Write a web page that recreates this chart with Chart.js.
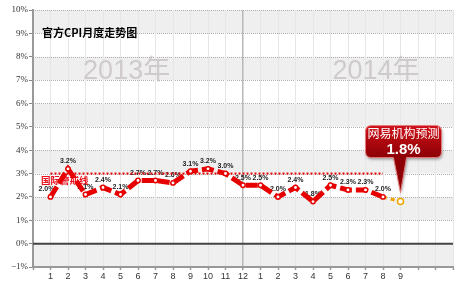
<!DOCTYPE html>
<html><head><meta charset="utf-8">
<script src="https://cdn.jsdelivr.net/npm/chart.js@4"></script>
<style>html,body{margin:0;padding:0;background:#fff}#wrap{width:460px;height:284px;position:relative}canvas{display:block}</style>
</head><body><div id="wrap"><canvas id="c" width="460" height="284" style="width:460px;height:284px"></canvas></div>
<script>
const monthLabels = ['1','2','3','4','5','6','7','8','9','10','11','12','1','2','3','4','5','6','7','8','9','',''];
const cpi = [2.0,3.2,2.1,2.4,2.1,2.7,2.7,2.6,3.1,3.2,3.0,2.5,2.5,2.0,2.4,1.8,2.5,2.3,2.3,2.0];
const forecast = 1.8;
const warningLevel = 3;
const warningLabel = '国际警戒线';
const yearLabels = ['2013年','2014年'];
const yearLabelCenters = [5.35, 19.6];
const chartTitle = '官方CPI月度走势图';
const calloutLines = ['网易机构预测','1.8%'];

const mainPts = cpi.map((v,i)=>({x:i+1,y:v}));
const fcPts = [{x:cpi.length,y:cpi[cpi.length-1]},{x:cpi.length+1,y:forecast}];
const warnPts = [{x:1,y:warningLevel},{x:cpi.length,y:warningLevel}];

const bgPlugin = {
  id:'bg',
  beforeDraw(chart){
    const {ctx, chartArea:a, scales:{y}} = chart;
    ctx.save();
    for(let v=-1; v<10; v++){
      if(((v+1)%2)===0){
        const t=y.getPixelForValue(v+1), b=y.getPixelForValue(v);
        ctx.fillStyle='#efefef';
        ctx.fillRect(a.left,t,a.right-a.left,b-t);
      }
    }
    ctx.strokeStyle='#b0b0b0'; ctx.lineWidth=1; ctx.setLineDash([1,1]);
    for(let v=-1; v<=10; v++){
      if(v===0) continue;
      const py=Math.round(y.getPixelForValue(v))+0.5;
      ctx.beginPath(); ctx.moveTo(a.left,py); ctx.lineTo(a.right,py); ctx.stroke();
    }
    ctx.restore();
  },
  beforeDatasetsDraw(chart){
    const {ctx, chartArea:a, scales:{x,y}} = chart;
    ctx.save();
    ctx.strokeStyle='#444'; ctx.lineWidth=2;
    const zy=y.getPixelForValue(0);
    ctx.beginPath(); ctx.moveTo(a.left,zy); ctx.lineTo(a.right,zy); ctx.stroke();
    ctx.fillStyle='#d0cbcb'; ctx.font='27px "Liberation Sans","Noto Sans CJK SC"';
    ctx.textAlign='center'; ctx.textBaseline='middle';
    yearLabels.forEach((t,i)=>ctx.fillText(t, x.getPixelForValue(yearLabelCenters[i]), 72));
    ctx.fillStyle='#000'; ctx.font='bold 11px "Noto Sans CJK SC"'; ctx.textAlign='left';
    ctx.fillText(chartTitle, 42, 33);
    ctx.fillStyle='#e8101c'; ctx.font='bold 9.5px "Noto Sans CJK SC"';
    ctx.fillText(warningLabel, 41, y.getPixelForValue(warningLevel)+7);
    const meta=chart.getDatasetMeta(0);
    ctx.fillStyle='#222'; ctx.font='bold 7px "Liberation Sans"'; ctx.textAlign='center'; ctx.textBaseline='bottom';
    meta.data.forEach((p,i)=>{
      const dx = i===0 ? -4 : 0;
      ctx.fillText(cpi[i].toFixed(1)+'%', p.x+dx, p.y-4);
    });
    ctx.restore();
  },
  afterDraw(chart){
    const {ctx} = chart;
    const p = chart.getDatasetMeta(1).data[1];
    const tipX=p.x, tipY=p.y-9;
    const w=76, h=32, l=tipX-35, t=p.y-76, r=l+w, b=t+h, rad=6;
    ctx.save();
    ctx.shadowColor='rgba(0,0,0,0.35)'; ctx.shadowBlur=3; ctx.shadowOffsetX=1; ctx.shadowOffsetY=2;
    const g=ctx.createLinearGradient(0,t,0,b);
    g.addColorStop(0,'#cf1018'); g.addColorStop(1,'#8c0006');
    ctx.fillStyle=g;
    ctx.beginPath();
    ctx.moveTo(l+rad,t); ctx.lineTo(r-rad,t); ctx.quadraticCurveTo(r,t,r,t+rad);
    ctx.lineTo(r,b-rad); ctx.quadraticCurveTo(r,b,r-rad,b);
    ctx.lineTo(tipX+6,b); ctx.lineTo(tipX,tipY); ctx.lineTo(tipX-7,b);
    ctx.lineTo(l+rad,b); ctx.quadraticCurveTo(l,b,l,b-rad);
    ctx.lineTo(l,t+rad); ctx.quadraticCurveTo(l,t,l+rad,t);
    ctx.closePath(); ctx.fill();
    ctx.shadowColor='transparent';
    ctx.strokeStyle='#e57a7a'; ctx.lineWidth=1; ctx.stroke();
    ctx.fillStyle='#fff'; ctx.textAlign='center'; ctx.textBaseline='middle';
    ctx.font='12px "Noto Sans CJK SC"';
    ctx.fillText(calloutLines[0], (l+r)/2, t+8);
    ctx.font='bold 15px "Liberation Sans"';
    ctx.fillText(calloutLines[1], (l+r)/2, t+24);
    ctx.restore();
  }
};

new Chart(document.getElementById('c'), {
  type:'line',
  data:{datasets:[
    {data:mainPts, borderColor:'#e60000', borderWidth:5, borderDash:[12,4], pointRadius:2.2, pointBorderWidth:1.5,
     pointBackgroundColor:'#fff', pointBorderColor:'#e60000', tension:0, order:1},
    {data:fcPts, borderColor:'#f0a800', borderWidth:3, borderDash:[4,4], pointRadius:[0,3], pointBorderWidth:1.5,
     pointBackgroundColor:'#fff', pointBorderColor:'#f0a800', tension:0, order:2},
    {data:warnPts, borderColor:'#e60000', borderWidth:2, borderDash:[2,2], pointRadius:0, order:3}
  ]},
  options:{
    responsive:false, animation:false, devicePixelRatio:1,
    layout:{padding:{left:0,right:7,top:10,bottom:0}},
    plugins:{legend:{display:false}, tooltip:{enabled:false}},
    scales:{
      x:{type:'linear', min:0, max:24, offset:false,
        afterFit(s){s.height=17;},
        ticks:{stepSize:1, autoSkip:false, maxRotation:0, padding:1, color:'#333', font:{size:9, family:'"Liberation Sans"'},
          callback:(v)=> (v>=1 && v<=monthLabels.length) ? monthLabels[v-1] : ''},
        grid:{color:(c)=> c.tick && c.tick.value===12 ? '#b8b8b8' : '#e6e6e6',
              lineWidth:(c)=> c.tick && c.tick.value===12 ? 1.5 : 1,
              tickLength:3, tickColor:'#999', tickWidth:1.5},
        border:{color:'#999', width:2}
      },
      y:{min:-1, max:10,
        afterFit(s){s.width=33;},
        ticks:{stepSize:1, padding:1, color:'#333', font:{size:9, family:'"Liberation Serif"'},
          callback:(v)=> (v<0?'\u2212'+(-v):v)+'%'},
        grid:{drawOnChartArea:false, tickLength:4, tickColor:'#888', tickWidth:1},
        border:{color:'#999', width:2}
      }
    }
  },
  plugins:[bgPlugin]
});
</script></body></html>
